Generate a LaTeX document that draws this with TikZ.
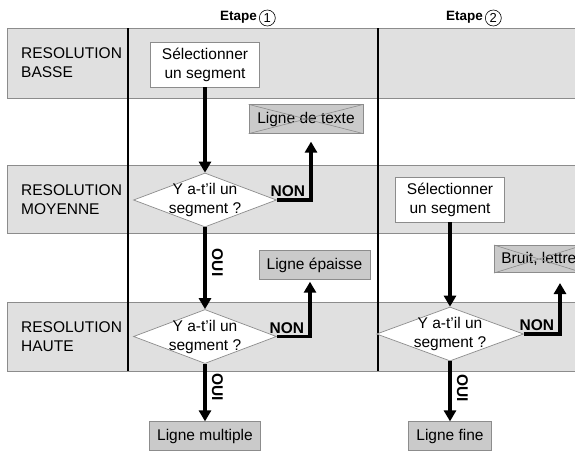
\documentclass[tikz,border=0pt]{standalone}
\usepackage{fontspec}
\setmainfont{Liberation Sans}
\usetikzlibrary{arrows.meta, positioning, shapes.geometric, calc}
\definecolor{cband}{HTML}{E0E0E0}
\definecolor{cedge}{HTML}{8C8C8C}
\definecolor{cres}{HTML}{CACACA}
\tikzset{
  every picture/.style={font=\fontsize{15.5}{19}\selectfont},
  band/.style={draw=cedge, fill=cband, line width=0.9pt},
  lane/.style={draw=black, line width=1.3pt},
  selbox/.style={draw=cedge, fill=white, align=center, inner sep=0pt, minimum width=109pt, minimum height=45pt, line width=0.8pt},
  resbox/.style={draw=cedge, fill=cres, inner sep=7pt, minimum height=26pt, line width=0.8pt},
  cross/.style={draw=cedge, line width=0.6pt},
  decision/.style={diamond, draw=cedge, fill=white, inner sep=0pt, aspect=2.65, minimum width=143pt, minimum height=54pt, line width=0.7pt, label={[align=center]center:#1}},
  flow/.style={-{Triangle[length=11pt, width=12pt]}, line width=3.8pt},
  answer/.style={font=\fontsize{15.5}{18}\selectfont\bfseries, inner sep=1pt},
  lvl/.style={align=left, anchor=west, inner sep=0pt},
  etape/.style={font=\fontsize{13.5}{15}\selectfont\bfseries, inner sep=0pt},
  num/.style={circle, draw, line width=0.6pt, inner sep=0pt, minimum size=16pt, font=\fontsize{13}{13}\selectfont},
}

\begin{document}
\begin{tikzpicture}[x=1pt, y=-1pt]
  \clip (0,0) rectangle (575,450);

  % bands and lanes
  \draw[band] (7,28) rectangle (590,98);
  \draw[band] (7,165) rectangle (590,233);
  \draw[band] (7,302) rectangle (590,371);
  \draw[lane] (128,28) -- (128,371);
  \draw[lane] (378,28) -- (378,371);

  \node[lvl] (basse) at (21,63) {RESOLUTION\\BASSE};
  \node[lvl] (moyenne) at (21,200) {RESOLUTION\\MOYENNE};
  \node[lvl] (haute) at (21,337) {RESOLUTION\\HAUTE};

  \node[etape, anchor=east] (et1) at (257,17) {Etape};
  \node[num, right=2pt of et1, yshift=-1pt] (n1) {1};
  \node[etape, anchor=east] (et2) at (483,17) {Etape};
  \node[num, right=2pt of et2, yshift=-1pt] (n2) {2};

  % etape 1
  \node[selbox] (sel1) at (205,64.5) {Sélectionner\\un segment};
  \node[decision={Y a-t’il un\\segment ?}] (q1) at (205,200) {};
  \node[resbox, minimum width=114pt] (texte) at (306,119) {Ligne de texte};
  \draw[cross] (texte.north west) -- (texte.south east) (texte.south west) -- (texte.north east);
  \node[decision={Y a-t’il un\\segment ?}] (q2) at (205,336.5) {};
  \node[resbox, minimum width=111pt] (epaisse) at (314.5,265) {Ligne épaisse};
  \node[resbox, minimum width=111pt] (multiple) at (205,436) {Ligne multiple};

  \draw[flow] (sel1) -- (q1);
  \draw[flow, shorten >=8pt] (q1.east) -| ([xshift=5pt]texte.south)
    node[answer, pos=0.5, anchor=south east, xshift=-3pt] {NON};
  \draw[flow] (q1) -- (q2)
    node[answer, pos=0.43, rotate=-90, anchor=south, inner sep=5pt] {OUI};
  \draw[flow, shorten >=2pt] (q2.east) -| ([xshift=-4.5pt]epaisse.south)
    node[answer, pos=0.5, anchor=south east, xshift=-3pt] {NON};
  \draw[flow] (q2) -- (multiple)
    node[answer, pos=0.4, rotate=-90, anchor=south, inner sep=5pt] {OUI};

  % etape 2
  \node[selbox] (sel2) at (450,199.5) {Sélectionner\\un segment};
  \node[decision={Y a-t’il un\\segment ?}, minimum width=147pt] (q3) at (450,334) {};
  \node[resbox, minimum height=24pt, anchor=west] (bruit) at (494,259) {Bruit, lettre};
  \draw[cross] (bruit.north west) -- (bruit.south east) (bruit.south west) -- (bruit.north east);
  \node[resbox, minimum width=83pt] (fine) at (450,436) {Ligne fine};

  \draw[flow] (sel2) -- (q3);
  \draw[flow, shorten >=10pt] (q3.east) -| ([xshift=66pt]bruit.south west)
    node[answer, pos=0.5, anchor=south east, xshift=-3pt] {NON};
  \draw[flow] (q3) -- (fine)
    node[answer, pos=0.45, rotate=-90, anchor=south, inner sep=5pt] {OUI};
\end{tikzpicture}
\end{document}
